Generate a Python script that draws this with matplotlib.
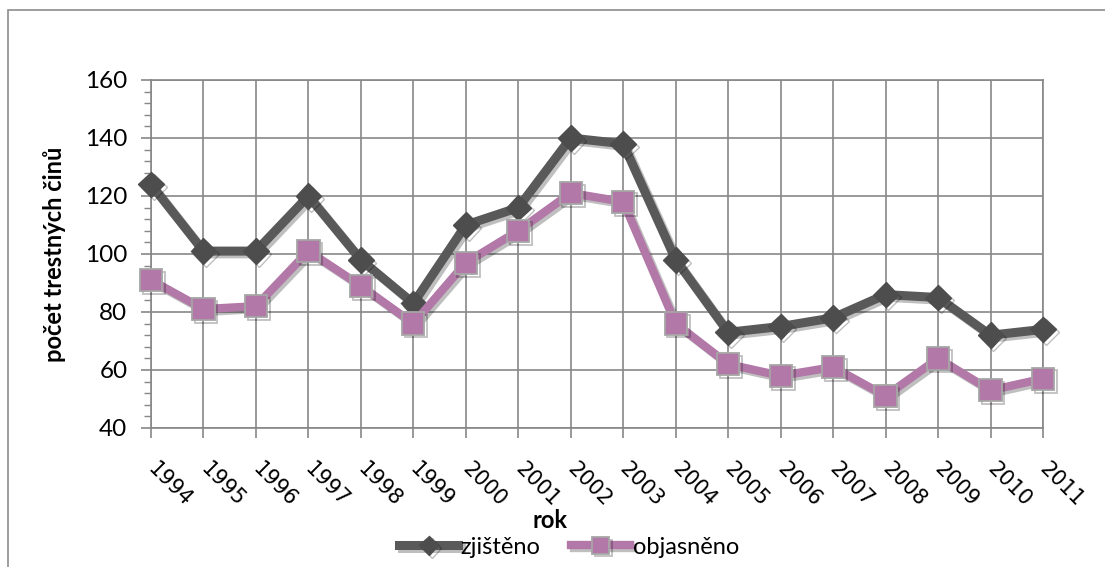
import matplotlib.pyplot as plt
import matplotlib.patheffects as pe
from matplotlib.patches import Rectangle
from matplotlib.ticker import MultipleLocator

plt.rcParams['font.family'] = ['Lato', 'DejaVu Sans']

years = ['1994', '1995', '1996', '1997', '1998', '1999', '2000', '2001', '2002',
         '2003', '2004', '2005', '2006', '2007', '2008', '2009', '2010', '2011']
zjisteno = [124, 101, 101, 120, 98, 83, 110, 116, 140, 138, 98, 73, 75, 78, 86, 85, 72, 74]
objasneno = [91, 81, 82, 101, 89, 76, 97, 108, 121, 118, 76, 62, 58, 61, 51, 64, 53, 57]

grid_c = '#878787'
dark = '#595959'
purple = '#b278a7'

fig = plt.figure(figsize=(11.05, 5.67), dpi=100)
# outer chart border
fig.patches.append(Rectangle((8 / 1105, -0.05), 1.2, 1.05 - 10 / 567, transform=fig.transFigure,
                             fill=False, edgecolor='#8c8c8c', lw=1.2))

ax = fig.add_axes([151 / 1105, 1 - 428 / 567, (1043 - 151) / 1105, (428 - 80) / 567])
x = list(range(len(years)))

shadow = [pe.SimpleLineShadow(offset=(2, -2), alpha=0.25, shadow_color='k'), pe.Normal()]
l1, = ax.plot(x, zjisteno, color=dark, lw=6.5, marker='D', ms=13, mfc='#4d4d4d', mec='#4d4d4d',
              path_effects=shadow, label='zjištěno', zorder=3, clip_on=False)
l2, = ax.plot(x, objasneno, color=purple, lw=6, marker='s', ms=16, mfc=purple, mec='#a6a6a6',
              mew=1.3, path_effects=shadow, label='objasněno', zorder=3, clip_on=False)

ax.set_xlim(0, len(years) - 1)
ax.set_ylim(40, 160)
ax.yaxis.set_major_locator(MultipleLocator(20))
ax.yaxis.set_minor_locator(MultipleLocator(4))
ax.set_xticks(x)
ax.set_xticklabels(years, rotation=-45, ha='left', va='center', rotation_mode='anchor',
                   family=['DejaVu Sans'], fontsize=15)
ax.tick_params(axis='x', length=7, width=1.2, color=grid_c, pad=20)
ax.tick_params(axis='y', which='major', length=7, width=1.2, color=grid_c, labelsize=17.5, pad=10)
ax.tick_params(axis='y', which='minor', length=5, width=1.0, color=grid_c)
ax.grid(True, which='major', color=grid_c, lw=1.2)
ax.set_axisbelow(True)
for s in ax.spines.values():
    s.set_color(grid_c)
    s.set_linewidth(1.2)

ax.set_ylabel('počet trestných činů', fontsize=17, fontweight='bold', labelpad=14)
fig.text(0.498, 1 - 521 / 567, 'rok', fontsize=17, fontweight='bold', ha='center', va='center')

fig.legend(handles=[l1, l2], loc='center', bbox_to_anchor=(0.515, 1 - 547 / 567), ncol=2,
           frameon=False, fontsize=17, handlelength=2.5, handletextpad=0.1, columnspacing=1.3,
           markerscale=0.75)

fig.savefig('out.png', dpi=100)
